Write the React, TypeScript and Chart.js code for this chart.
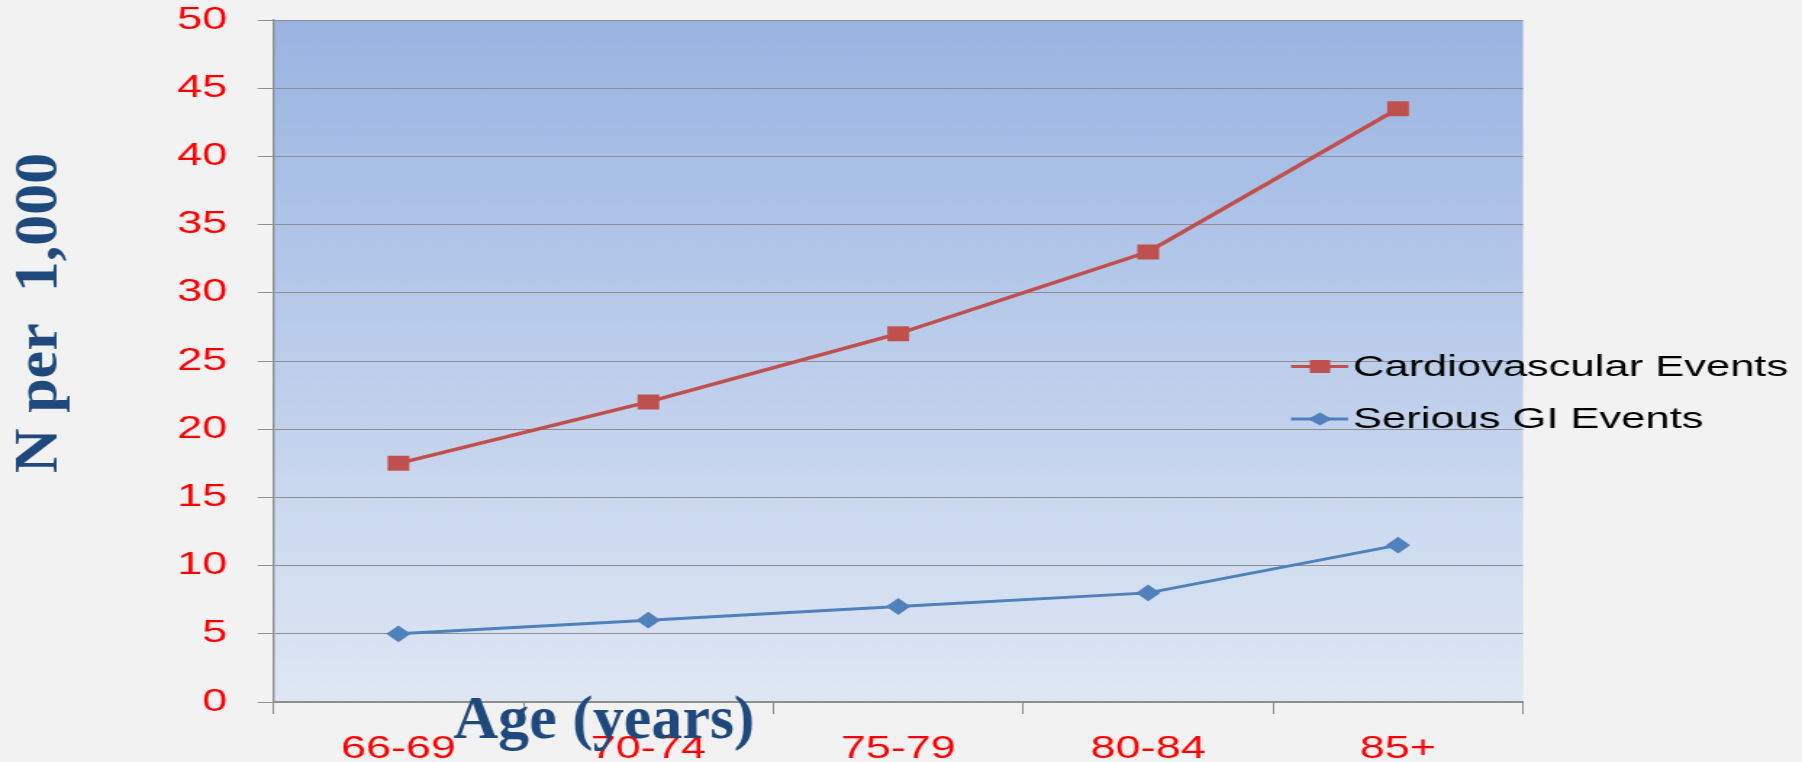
import React, { useEffect, useRef } from "react";
import { Chart, registerables } from "chart.js";

Chart.register(...registerables);

// ---- data ----
const categories = ["66-69", "70-74", "75-79", "80-84", "85+"];
const cardiovascular = [17.5, 22, 27, 33, 43.5];
const seriousGI = [5, 6, 7, 8, 11.5];
const seriesNames = ["Cardiovascular Events", "Serious GI Events"];
const yTitle = "N per  1,000";
const xTitle = "Age (years)";

// ---- geometry: the reference is horizontally stretched ----
const OUT_W = 1802;
const OUT_H = 762;
const STRETCH = 1.45;
const W = Math.round(OUT_W / STRETCH);
const S = OUT_W / W;
const fx = (v: number) => v / S;

const RED = "#C0504D";
const BLUE = "#4F81BD";
const GRID = "#8E8E8E";
const TICK_RED = "#FF0000";
const TITLE_BLUE = "#1F497D";
const TICK_FONT = { family: "'Liberation Sans', Arial, sans-serif", size: 31 };

const bgPlugin = {
  id: "bgPlugin",
  beforeDraw(chart: any) {
    const { ctx, chartArea } = chart;
    ctx.save();
    ctx.fillStyle = "#F2F2F2";
    ctx.fillRect(0, 0, chart.width, chart.height);
    const g = ctx.createLinearGradient(0, chartArea.top, 0, chartArea.bottom);
    g.addColorStop(0, "#99B4E2");
    g.addColorStop(1, "#DFE7F4");
    ctx.fillStyle = g;
    ctx.fillRect(chartArea.left, chartArea.top, chartArea.right - chartArea.left, chartArea.bottom - chartArea.top);
    ctx.restore();
  },
};

const legendPlugin = {
  id: "customLegend",
  afterDraw(chart: any) {
    const { ctx } = chart;
    const rows = [366.5, 419];
    chart.data.datasets.forEach((ds: any, i: number) => {
      const y = rows[i];
      ctx.save();
      ctx.strokeStyle = ds.borderColor;
      ctx.fillStyle = ds.borderColor;
      ctx.lineWidth = 3;
      ctx.beginPath();
      ctx.moveTo(fx(1291), y);
      ctx.lineTo(fx(1348), y);
      ctx.stroke();
      const cx = fx(1320);
      ctx.beginPath();
      if (ds.pointStyle === "rect") {
        const hw = fx(10.2);
        ctx.rect(cx - hw, y - 6.5, hw * 2, 13);
      } else {
        const hw = fx(12);
        ctx.moveTo(cx - hw, y);
        ctx.lineTo(cx, y - 6.5);
        ctx.lineTo(cx + hw, y);
        ctx.lineTo(cx, y + 6.5);
        ctx.closePath();
      }
      ctx.fill();
      ctx.fillStyle = "#000000";
      ctx.font = "30px 'Liberation Sans', Arial, sans-serif";
      ctx.textAlign = "left";
      ctx.textBaseline = "middle";
      ctx.fillText(ds.label, fx(1353), y + 1);
      ctx.restore();
    });
  },
};

const titlePlugin = {
  id: "axisTitles",
  afterDraw(chart: any) {
    const { ctx } = chart;
    ctx.save();
    ctx.scale(1 / S, 1);
    ctx.fillStyle = TITLE_BLUE;
    ctx.font = "bold 62px 'Liberation Serif', 'Times New Roman', serif";
    ctx.textAlign = "center";
    ctx.textBaseline = "alphabetic";
    ctx.fillText(xTitle, 604, 738);
    ctx.translate(57, 313);
    ctx.rotate(-Math.PI / 2);
    ctx.fillText(yTitle, 0, 0);
    ctx.restore();
  },
};

export default function App() {
  const ref = useRef<HTMLCanvasElement | null>(null);

  useEffect(() => {
    if (!ref.current) return;
    const chart = new Chart(ref.current, {
      type: "line",
      data: {
        labels: categories,
        datasets: [
          {
            label: seriesNames[0],
            data: cardiovascular,
            borderColor: RED,
            backgroundColor: RED,
            pointBackgroundColor: RED,
            pointBorderColor: RED,
            pointStyle: "rect",
            pointRadius: 10.6,
            pointBorderWidth: 0,
            borderWidth: 3.5,
            tension: 0,
            fill: false,
          },
          {
            label: seriesNames[1],
            data: seriousGI,
            borderColor: BLUE,
            backgroundColor: BLUE,
            pointBackgroundColor: BLUE,
            pointBorderColor: BLUE,
            pointStyle: "rectRot",
            pointRadius: 8.4,
            pointBorderWidth: 0,
            borderWidth: 3,
            tension: 0,
            fill: false,
          },
        ],
      },
      options: {
        responsive: false,
        maintainAspectRatio: false,
        devicePixelRatio: 1,
        animation: false,
        layout: {
          autoPadding: false,
          padding: { left: 0, right: W - fx(1523), top: 20, bottom: 0 },
        },
        plugins: {
          legend: { display: false },
          tooltip: { enabled: false },
          title: { display: false },
        },
        scales: {
          x: {
            type: "category",
            offset: true,
            grid: {
              display: true,
              drawOnChartArea: false,
              drawTicks: true,
              offset: true,
              tickLength: 12,
              color: GRID,
              lineWidth: 1,
            },
            border: { display: true, color: GRID, width: 1.4 },
            ticks: {
              color: TICK_RED,
              font: TICK_FONT,
              padding: 17,
              maxRotation: 0,
              autoSkip: false,
            },
            afterFit: (s: any) => {
              s.height = 60;
              s.paddingLeft = 0;
              s.paddingRight = 0;
            },
          },
          y: {
            min: 0,
            max: 50,
            grid: {
              color: GRID,
              lineWidth: 1,
              drawTicks: true,
              tickLength: 11,
            },
            border: { display: true, color: GRID, width: 1.4 },
            ticks: {
              stepSize: 5,
              color: TICK_RED,
              font: TICK_FONT,
              padding: 21,
            },
            afterFit: (s: any) => {
              s.width = fx(273.5);
              s.paddingTop = 0;
              s.paddingBottom = 0;
            },
          },
        },
      },
      plugins: [bgPlugin, legendPlugin, titlePlugin],
    } as any);
    return () => chart.destroy();
  }, []);

  return (
    <div
      style={{
        position: "fixed",
        left: 0,
        top: 0,
        width: OUT_W,
        height: OUT_H,
        background: "#F2F2F2",
        overflow: "hidden",
      }}
    >
      <canvas
        ref={ref}
        width={W}
        height={OUT_H}
        style={{ width: OUT_W + "px", height: OUT_H + "px", display: "block" }}
      />
    </div>
  );
}
